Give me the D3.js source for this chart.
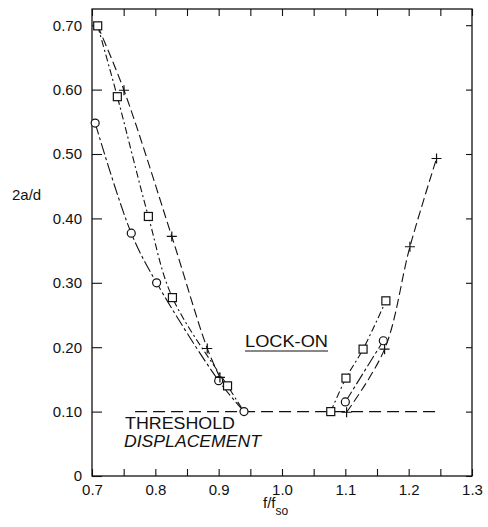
<!DOCTYPE html>
<html>
<head>
<meta charset="utf-8">
<script src="https://cdn.jsdelivr.net/npm/d3@7"></script>
<style>
  body { margin: 0; background: #fff; }
  svg { font-family: "Liberation Sans", Arial, sans-serif; }
</style>
</head>
<body>
<svg id="chart"></svg>
<script>
// Lock-on data (f/fso, 2a/d)
var circleLeftX  = [0.705, 0.762, 0.802, 0.900, 0.940];
var circleLeftY  = [0.548, 0.377, 0.300, 0.148, 0.100];
var circleRightX = [1.100, 1.160];
var circleRightY = [0.115, 0.210];

var squareLeftX  = [0.709, 0.740, 0.789, 0.827, 0.914];
var squareLeftY  = [0.699, 0.589, 0.403, 0.277, 0.140];
var squareRightX = [1.077, 1.101, 1.128, 1.164];
var squareRightY = [0.100, 0.152, 0.197, 0.272];

var plusLeftX  = [0.7505, 0.826, 0.882, 0.902];
var plusLeftY  = [0.599, 0.372, 0.198, 0.153];
var plusRightX = [1.102, 1.162, 1.202, 1.244];
var plusRightY = [0.099, 0.197, 0.356, 0.493];

// threshold displacement line
var thresholdX = [0.768, 1.245];
var thresholdY = 0.10;

var xTicks = [0.7, 0.75, 0.8, 0.85, 0.9, 0.95, 1.0, 1.05, 1.1, 1.15, 1.2, 1.25, 1.3];
var yTicks = [0, 0.1, 0.2, 0.3, 0.4, 0.5, 0.6, 0.7];

var width = 488, height = 527;
var margin = {top: 9, right: 16, bottom: 51, left: 92};

var svg = d3.select("#chart")
    .attr("width", width)
    .attr("height", height);

var x = d3.scaleLinear()
          .domain([0.7, 1.3])
          .range([margin.left, width - margin.right]);

var y = d3.scaleLinear()
          .domain([0, 0.7])
          .range([height - margin.bottom, height - margin.bottom - 0.7 * 644]);

var yTop = margin.top;

// zip helper
function pts(xs, ys) {
  return xs.map(function(v, i) { return [v, ys[i]]; });
}

var line = d3.line()
             .x(function(d) { return x(d[0]); })
             .y(function(d) { return y(d[1]); })
             .curve(d3.curveCatmullRom.alpha(0.5));

// frame
svg.append("rect")
    .attr("x", x(0.7))
    .attr("y", yTop)
    .attr("width", x(1.3) - x(0.7))
    .attr("height", y(0) - yTop)
    .attr("fill", "none")
    .attr("stroke", "#111")
    .attr("stroke-width", 1.3);

var isMajor = function(d) { return Math.abs(d * 10 - Math.round(d * 10)) < 1e-6; };

// bottom axis
svg.append("g")
    .attr("transform", "translate(0," + y(0) + ")")
    .call(d3.axisBottom(x)
            .tickValues(xTicks)
            .tickSize(-7)
            .tickPadding(8)
            .tickFormat(function(d) { return isMajor(d) ? d3.format(".1f")(d) : ""; }))
    .call(function(g) { g.select(".domain").remove(); });

// top axis
svg.append("g")
    .attr("transform", "translate(0," + yTop + ")")
    .call(d3.axisTop(x).tickValues(xTicks).tickSize(-7).tickFormat(""))
    .call(function(g) { g.select(".domain").remove(); });

// left axis
svg.append("g")
    .attr("transform", "translate(" + x(0.7) + ",0)")
    .call(d3.axisLeft(y)
            .tickValues(yTicks)
            .tickSize(-10)
            .tickPadding(10)
            .tickFormat(function(d) { return d === 0 ? "0" : d3.format(".2f")(d); }))
    .call(function(g) { g.select(".domain").remove(); });

// right axis
svg.append("g")
    .attr("transform", "translate(" + x(1.3) + ",0)")
    .call(d3.axisRight(y).tickValues(yTicks).tickSize(-6).tickFormat(""))
    .call(function(g) { g.select(".domain").remove(); });

svg.selectAll(".tick line").attr("stroke", "#111").attr("stroke-width", 1.1);
svg.selectAll(".tick text")
    .attr("font-size", 15)
    .attr("font-family", "Liberation Sans, Arial, sans-serif")
    .attr("fill", "#111");

// axis titles
svg.append("text")
    .attr("x", 12)
    .attr("y", 200)
    .attr("font-size", 15)
    .attr("fill", "#111")
    .text("2a/d");

var xt = svg.append("text")
    .attr("x", 263)
    .attr("y", 508)
    .attr("font-size", 15)
    .attr("fill", "#111");
xt.append("tspan").text("f/f");
xt.append("tspan").attr("dy", 7).attr("font-size", 12).text("so");

// threshold line
svg.append("line")
    .attr("x1", x(thresholdX[0]))
    .attr("x2", x(thresholdX[1]))
    .attr("y1", y(thresholdY))
    .attr("y2", y(thresholdY))
    .attr("stroke", "#111")
    .attr("stroke-width", 1.1)
    .attr("stroke-dasharray", "12,6");

// curves
var curves = [
  {d: pts(circleLeftX, circleLeftY), dash: "12,3,3,3"},
  {d: pts(circleRightX, circleRightY), dash: "12,3,3,3"},
  {d: pts(squareLeftX, squareLeftY).concat([[circleLeftX[4], circleLeftY[4]]]), dash: "7,3,2,3"},
  {d: pts(squareRightX, squareRightY), dash: "7,3,2,3"},
  {d: [[squareLeftX[0], squareLeftY[0]]].concat(pts(plusLeftX, plusLeftY)), dash: "9,4"},
  {d: pts(plusRightX, plusRightY), dash: "9,4"}
];

svg.selectAll(".curve")
  .data(curves)
  .enter()
  .append("path")
    .classed("curve", true)
    .attr("d", function(c) { return line(c.d); })
    .attr("fill", "none")
    .attr("stroke", "#111")
    .attr("stroke-width", 1.1)
    .attr("stroke-dasharray", function(c) { return c.dash; });

// markers
var circles = pts(circleLeftX, circleLeftY).concat(pts(circleRightX, circleRightY));
var squares = pts(squareLeftX, squareLeftY).concat(pts(squareRightX, squareRightY));
var pluses = pts(plusLeftX, plusLeftY).concat(pts(plusRightX, plusRightY));

svg.selectAll(".pt-circle")
  .data(circles)
  .enter()
  .append("circle")
    .classed("pt-circle", true)
    .attr("cx", function(d) { return x(d[0]); })
    .attr("cy", function(d) { return y(d[1]); })
    .attr("r", 4)
    .attr("fill", "#fff")
    .attr("stroke", "#111")
    .attr("stroke-width", 1.2);

svg.selectAll(".pt-square")
  .data(squares)
  .enter()
  .append("rect")
    .classed("pt-square", true)
    .attr("x", function(d) { return x(d[0]) - 4; })
    .attr("y", function(d) { return y(d[1]) - 4; })
    .attr("width", 8)
    .attr("height", 8)
    .attr("fill", "#fff")
    .attr("stroke", "#111")
    .attr("stroke-width", 1.2);

svg.selectAll(".pt-plus")
  .data(pluses)
  .enter()
  .append("path")
    .classed("pt-plus", true)
    .attr("d", function(d) {
      var cx = x(d[0]), cy = y(d[1]);
      return "M" + (cx - 5) + "," + cy + "H" + (cx + 5) + "M" + cx + "," + (cy - 5) + "V" + (cy + 5);
    })
    .attr("stroke", "#111")
    .attr("stroke-width", 1.2);

// annotations
svg.append("text")
    .attr("x", 125)
    .attr("y", 429)
    .attr("font-size", 17)
    .attr("textLength", 110)
    .attr("lengthAdjust", "spacingAndGlyphs")
    .attr("fill", "#111")
    .text("THRESHOLD");

svg.append("text")
    .attr("x", 124)
    .attr("y", 447)
    .attr("font-size", 17)
    .attr("font-style", "italic")
    .attr("textLength", 137)
    .attr("lengthAdjust", "spacingAndGlyphs")
    .attr("fill", "#111")
    .text("DISPLACEMENT");

svg.append("text")
    .attr("x", 245)
    .attr("y", 347)
    .attr("font-size", 17)
    .attr("textLength", 83)
    .attr("lengthAdjust", "spacingAndGlyphs")
    .attr("fill", "#111")
    .text("LOCK-ON");

svg.append("line")
    .attr("x1", 245)
    .attr("x2", 328)
    .attr("y1", 351)
    .attr("y2", 351)
    .attr("stroke", "#111")
    .attr("stroke-width", 1);
</script>
</body>
</html>
